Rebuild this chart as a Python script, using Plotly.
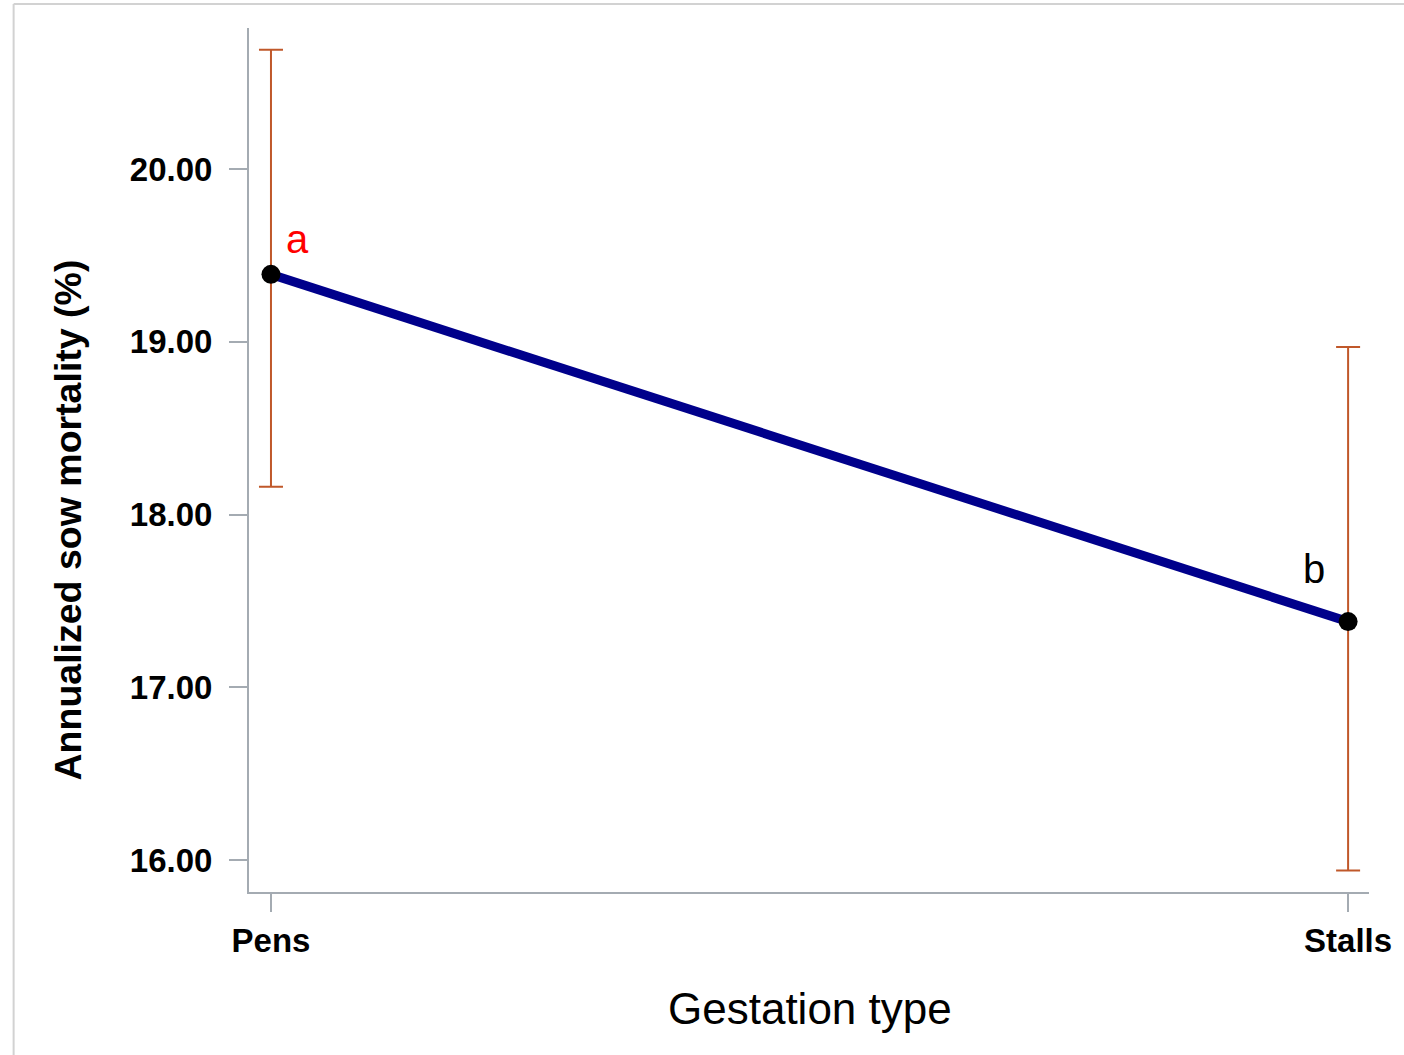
import plotly.graph_objects as go

# Gestation housing comparison: least-squares means with confidence limits
gestation_types = ["Pens", "Stalls"]
mortality_mean = [19.39, 17.38]
ci_upper = [20.69, 18.97]
ci_lower = [18.16, 15.94]
group_letters = ["a", "b"]
letter_colors = ["#ff0000", "#000000"]
y_ticks = [16.0, 17.0, 18.0, 19.0, 20.0]

err_plus = [u - m for u, m in zip(ci_upper, mortality_mean)]
err_minus = [m - l for m, l in zip(mortality_mean, ci_lower)]

FONT = "Liberation Sans, Arial, sans-serif"
AXIS_GRAY = "#a4abb2"

W, H = 1404, 1055
L, R, T, B = 249, 1372, 28, 892


def px_to_paper_x(px):
    return (px - L) / (R - L)


def px_to_paper_y(py):
    return (B - py) / (B - T)


fig = go.Figure()

# confidence interval whiskers
fig.add_trace(go.Scatter(
    x=gestation_types, y=mortality_mean, mode="markers",
    marker=dict(size=0.1, color="rgba(0,0,0,0)"),
    error_y=dict(type="data", symmetric=False, array=err_plus, arrayminus=err_minus,
                 color="#c0582a", thickness=2, width=12),
    showlegend=False, hoverinfo="skip",
))

# mean profile line with markers
fig.add_trace(go.Scatter(
    x=gestation_types, y=mortality_mean, mode="lines+markers",
    line=dict(color="#00008b", width=9),
    marker=dict(size=19, color="#000000"),
    showlegend=False,
))

# significance letters
shifts = [(27, 35), (-34, 53)]
for cat, m, letter, col, (dx, dy) in zip(gestation_types, mortality_mean, group_letters, letter_colors, shifts):
    fig.add_annotation(x=cat, y=m, text=letter, showarrow=False, xshift=dx, yshift=dy,
                       font=dict(family=FONT, size=40, color=col))

# axis titles
fig.add_annotation(xref="paper", yref="paper", x=px_to_paper_x(68), y=px_to_paper_y(520),
                   text="<b>Annualized sow mortality (%)</b>", textangle=-90, showarrow=False,
                   xanchor="center", yanchor="middle",
                   font=dict(family=FONT, size=37.5, color="#000000"))
fig.add_annotation(xref="paper", yref="paper", x=px_to_paper_x(812), y=px_to_paper_y(1008),
                   text="Gestation type", showarrow=False, xanchor="center", yanchor="middle",
                   font=dict(family=FONT, size=44, color="#000000"))

# light frame around the graphic
fig.add_shape(type="line", xref="paper", yref="paper",
              x0=px_to_paper_x(13), x1=px_to_paper_x(1410), y0=px_to_paper_y(4), y1=px_to_paper_y(4),
              line=dict(color="#d2d2d2", width=2))
fig.add_shape(type="line", xref="paper", yref="paper",
              x0=px_to_paper_x(13), x1=px_to_paper_x(13), y0=px_to_paper_y(4), y1=px_to_paper_y(1060),
              line=dict(color="#d2d2d2", width=2))

fig.update_layout(
    width=W, height=H,
    margin=dict(l=L, r=W - R, t=T, b=H - B),
    paper_bgcolor="white", plot_bgcolor="white",
    font=dict(family=FONT, color="#000000"),
    xaxis=dict(
        type="category", range=[-0.0204, 1.0194],
        showline=True, linecolor=AXIS_GRAY, linewidth=2,
        ticks="outside", ticklen=18, tickwidth=2, tickcolor=AXIS_GRAY,
        showgrid=False, zeroline=False,
        tickfont=dict(family=FONT, size=33, color="#000000", weight="bold"),
        ticklabelstandoff=0,
    ),
    yaxis=dict(
        range=[15.815, 20.816],
        tickvals=y_ticks, ticktext=[f"{v:.2f}" for v in y_ticks],
        showline=True, linecolor=AXIS_GRAY, linewidth=2,
        ticks="outside", ticklen=18, tickwidth=2, tickcolor=AXIS_GRAY,
        showgrid=False, zeroline=False,
        tickfont=dict(family=FONT, size=33, color="#000000", weight="bold"),
        ticklabelstandoff=10,
    ),
)

fig.write_html("out.html")
